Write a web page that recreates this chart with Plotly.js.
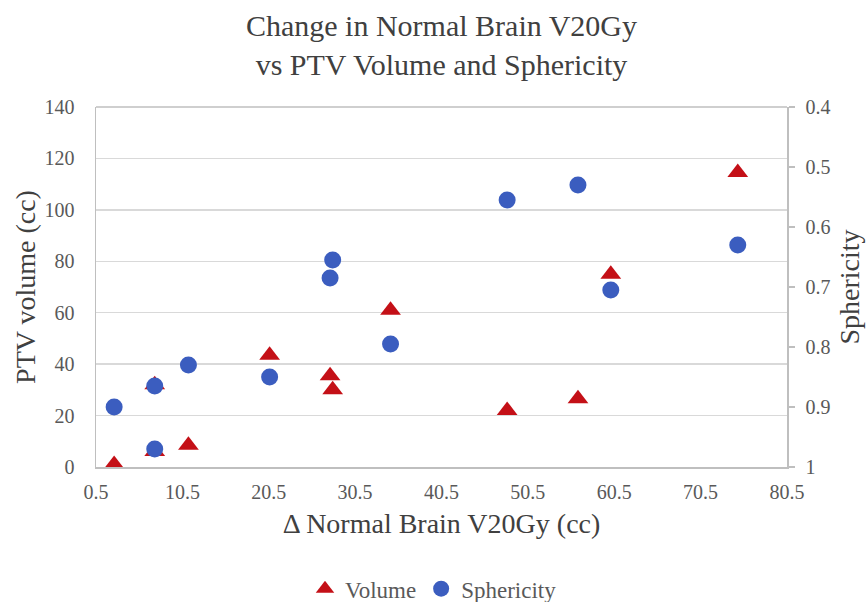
<!DOCTYPE html>
<html>
<head>
<meta charset="utf-8">
<script src="https://cdn.plot.ly/plotly-3.0.1.min.js"></script>
<style>html,body{margin:0;padding:0;background:#fff;}#chart{width:867px;height:602px;}</style>
</head>
<body>
<div id="chart"></div>
<script>
// Δ Normal Brain V20Gy (cc)
var deltaV20 = [2.6, 7.3, 7.3, 11.2, 20.6, 27.6, 27.9, 34.6, 48.1, 56.3, 60.1, 74.8];
// PTV volume (cc)
var ptvVolume = [1, 6, 32, 8.5, 43.5, 35.5, 30, 61, 22, 26.5, 75, 114.5];
// Sphericity
var sphericity = [0.90, 0.97, 0.865, 0.83, 0.85, 0.685, 0.655, 0.795, 0.555, 0.53, 0.705, 0.63];

var xTicks = [0.5, 10.5, 20.5, 30.5, 40.5, 50.5, 60.5, 70.5, 80.5];
var yTicks = [0, 20, 40, 60, 80, 100, 120, 140];
var y2Ticks = [0.4, 0.5, 0.6, 0.7, 0.8, 0.9, 1];

var FONT = 'Liberation Serif, Times New Roman, serif';
var TXT = '#404040';
var TICK = '#595959';
var AX = '#bfbfbf';
var GRID = '#d9d9d9';

var traces = [
  {
    x: deltaV20, y: ptvVolume, name: 'Volume', type: 'scatter', mode: 'markers',
    marker: {symbol: 'triangle-up', size: 18, color: '#C41017'},
    yaxis: 'y'
  },
  {
    x: deltaV20, y: sphericity, name: 'Sphericity', type: 'scatter', mode: 'markers',
    marker: {symbol: 'circle', size: 17, color: '#3B5DBF'},
    yaxis: 'y2'
  }
];

var layout = {
  width: 867, height: 602,
  paper_bgcolor: '#fff', plot_bgcolor: '#fff',
  margin: {l: 96, r: 80, t: 107, b: 135, pad: 0},
  font: {family: FONT, color: TXT},
  title: {
    text: 'Change in Normal Brain V20Gy<br>vs PTV Volume and Sphericity',
    font: {family: FONT, size: 30, color: TXT},
    x: 0.5, xanchor: 'center', xref: 'paper',
    y: 0.94, yanchor: 'top', yref: 'container'
  },
  showlegend: true,
  legend: {
    orientation: 'h', x: 0.5, xanchor: 'center', xref: 'container',
    y: 0.022, yanchor: 'middle', yref: 'container',
    font: {family: FONT, size: 23, color: TICK},
    itemwidth: 30, traceorder: 'normal'
  },
  xaxis: {
    range: [0.5, 80.5], tickvals: xTicks, ticktext: xTicks.map(String),
    showgrid: false, zeroline: false,
    showline: true, linecolor: AX, linewidth: 1.5,
    ticks: '', ticklabelstandoff: 6,
    tickfont: {family: FONT, size: 20, color: TICK},
    title: {text: 'Δ Normal Brain V20Gy (cc)', font: {family: FONT, size: 28, color: TXT}, standoff: 12},
    automargin: false, fixedrange: true
  },
  yaxis: {
    range: [0, 140], tickvals: yTicks, ticktext: yTicks.map(String),
    showgrid: true, gridcolor: GRID, gridwidth: 1.5, zeroline: false,
    showline: true, linecolor: AX, linewidth: 1.5, mirror: false,
    ticks: '', ticklabelstandoff: 16,
    tickfont: {family: FONT, size: 20, color: TICK},
    title: {text: 'PTV volume (cc)', font: {family: FONT, size: 28, color: TXT}, standoff: 0},
    automargin: false, fixedrange: true
  },
  yaxis2: {
    overlaying: 'y', side: 'right',
    range: [1, 0.4], tickvals: y2Ticks, ticktext: y2Ticks.map(String),
    showgrid: false, zeroline: false,
    showline: true, linecolor: AX, linewidth: 1.5,
    ticks: 'outside', ticklen: 6, tickcolor: AX, tickwidth: 1.5, ticklabelstandoff: 7,
    tickfont: {family: FONT, size: 20, color: TICK},
    title: {text: 'Sphericity', font: {family: FONT, size: 28, color: TXT}, standoff: 10},
    automargin: false, fixedrange: true
  },
  shapes: [
    {type: 'line', xref: 'paper', yref: 'paper', x0: 0, x1: 1, y0: 1, y1: 1, line: {color: AX, width: 1.5}}
  ]
};

Plotly.newPlot('chart', traces, layout, {staticPlot: true, displayModeBar: false});
</script>
</body>
</html>
